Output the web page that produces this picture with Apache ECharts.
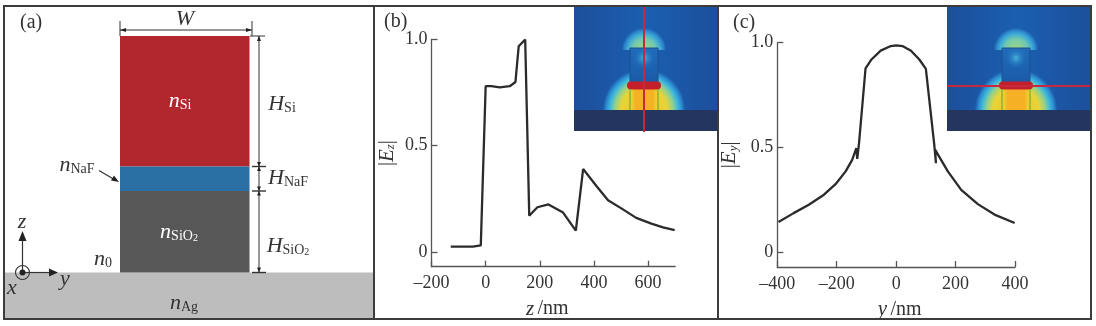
<!DOCTYPE html>
<html><head><meta charset="utf-8">
<style>html,body{margin:0;padding:0;background:#fff}#c{width:1096px;height:326px}</style>
<script src="https://cdn.jsdelivr.net/npm/echarts@6/dist/echarts.min.js"></script>
</head><body><div id="c"></div>
<script>
const zNm = [-129,-47,-18,0,21,52,89,110,122,146,161,191,232,286,333,360,409,452,507,556,612,655,698];
const ezValues = [.025,.025,.03,.78,.78,.775,.78,.80,.968,1.0,.17,.21,.223,.185,.10,.39,.31,.243,.2,.16,.133,.115,.102];
const yNm = [-396,-345,-294,-243,-204,-170,-148,-134,-131,-125,-103,-83,-52,-18,0,21,50,78,100,128,134,131,174,219,275,331,399];
const eyValues = [.145,.187,.227,.275,.325,.386,.441,.497,.446,.52,.878,.92,.962,.984,.987,.984,.962,.92,.875,.517,.425,.49,.386,.298,.23,.18,.14];
const zTicks = [-200,0,200,400,600];
const yTicks = [-400,-200,0,200,400];
const valueTicks = [0,0.5,1];

const SERIF = '"Liberation Serif","DejaVu Serif",serif';
const INK = '#333';
const AXIS = '#555';
const fmtX = v => String(v).replace('-', '\u2013');
const fmtY = v => v === 0 ? '0' : v.toFixed(1);

const axisRich = {
  i:{fontFamily:SERIF,fontStyle:'italic',fontSize:21,color:INK},
  r:{fontFamily:SERIF,fontSize:20,color:INK},
  is:{fontFamily:SERIF,fontStyle:'italic',fontSize:13,color:INK,verticalAlign:'bottom',padding:[6,0,0,0]}
};
const textRich = {
  i:{fontFamily:SERIF,fontStyle:'italic',fontSize:22,fill:INK},
  s:{fontFamily:SERIF,fontSize:14,fill:INK,verticalAlign:'bottom',padding:[8,0,0,0]},
  t:{fontFamily:SERIF,fontSize:10,fill:INK,verticalAlign:'bottom',padding:[11,0,0,0]},
  r:{fontFamily:SERIF,fontSize:20,fill:INK},
  wi:{fontFamily:SERIF,fontStyle:'italic',fontSize:22,fill:'#fff'},
  ws:{fontFamily:SERIF,fontSize:14,fill:'#fff',verticalAlign:'bottom',padding:[8,0,0,0]},
  wt:{fontFamily:SERIF,fontSize:10,fill:'#fff',verticalAlign:'bottom',padding:[11,0,0,0]}
};

function xAxis(idx,min,max,ticks,name,pad){return {
  type:'value',gridIndex:idx,min,max,
  axisLine:{show:true,onZero:false,lineStyle:{color:AXIS,width:1.3}},
  axisTick:{show:true,inside:true,length:6,customValues:ticks,lineStyle:{color:AXIS,width:1.3}},
  axisLabel:{show:true,customValues:ticks,formatter:fmtX,fontFamily:SERIF,fontSize:18,color:INK,margin:8,hideOverlap:false},
  splitLine:{show:false},
  name,nameLocation:'middle',nameGap:32,nameTextStyle:{rich:axisRich,padding:pad}
};}
function yAxis(idx,name,gap){return {
  type:'value',gridIndex:idx,min:-0.07,max:1,
  axisLine:{show:true,onZero:false,lineStyle:{color:AXIS,width:1.3}},
  axisTick:{show:true,inside:true,length:6,customValues:valueTicks,lineStyle:{color:AXIS,width:1.3}},
  axisLabel:{show:true,customValues:valueTicks,formatter:fmtY,fontFamily:SERIF,fontSize:18,color:INK,margin:4},
  splitLine:{show:false},
  name,nameLocation:'middle',nameGap:gap,nameRotate:90,nameTextStyle:{rich:axisRich}
};}

function T(x,y,text,align){return {type:'text',x,y,z:30,style:{text,rich:textRich,align:align||'center',verticalAlign:'middle',fontFamily:SERIF,fontSize:18,fill:INK}};}
function L(x1,y1,x2,y2,w,c){return {type:'line',z:25,shape:{x1,y1,x2,y2},style:{stroke:c||'#333',lineWidth:w||1}};}
function P(pts,c){return {type:'polygon',z:26,shape:{points:pts},style:{fill:c||'#222'}};}
function R(x,y,w,h,fill,z){return {type:'rect',z:z||10,shape:{x,y,width:w,height:h},style:{fill}};}
function radial(cx,cy,r,stops){return {type:'radial',x:cx,y:cy,r,global:true,colorStops:stops};}
function linear(h,stops){return {type:'linear',x:0,y:0,x2:h?1:0,y2:h?0:1,colorStops:stops};}
function dome(cx,cy,r,stops,z){return {type:'sector',z,shape:{cx,cy,r0:0,r,startAngle:Math.PI,endAngle:2*Math.PI},style:{fill:radial(cx,cy,r,stops)}};}

function inset(left,right,cx,lineH){
  const top=7,bot=131,g=110,w=right-left,out=[];
  out.push({type:'rect',z:10,shape:{x:left,y:top,width:w,height:bot-top},style:{fill:linear(true,[
    {offset:0,color:'#1d4f9b'},{offset:.5,color:'#1a5fb0'},{offset:1,color:'#1d4f9b'}])}});
  out.push(dome(cx,50,23,[
    {offset:0,color:'#a8d87a'},{offset:.5,color:'#70c8b0'},{offset:.72,color:'#3aa8d8'},{offset:.88,color:'#2a7cc4'},{offset:1,color:'rgba(26,95,176,0)'}],11));
  out.push(dome(cx,g,42,[
    {offset:0,color:'#f0c020'},{offset:.55,color:'#e8d438'},{offset:.7,color:'#8ed090'},{offset:.82,color:'#38b4e0'},{offset:.92,color:'#2a80c8'},{offset:1,color:'rgba(26,95,176,0)'}],11));
  out.push({type:'rect',z:12,shape:{x:cx-14,y:48,width:28,height:35},style:{fill:linear(false,[
    {offset:0,color:'#1f6cba'},{offset:1,color:'#1a5aa8'}]),stroke:'#1f4f8e',lineWidth:1}});
  out.push({type:'circle',z:13,shape:{cx,cy:58,r:11},style:{fill:{type:'radial',x:.5,y:.5,r:.5,colorStops:[
    {offset:0,color:'#44b4dc'},{offset:1,color:'rgba(31,108,186,0)'}]}}});
  out.push({type:'rect',z:12,shape:{x:cx-14,y:89,width:28,height:g-89},style:{fill:linear(true,[
    {offset:0,color:'#e8dc30'},{offset:.2,color:'#f5b026'},{offset:.8,color:'#f5b026'},{offset:1,color:'#e8dc30'}])}});
  out.push(L(cx-14,89,cx-14,g,1,'#6a9a3a'),L(cx+14,89,cx+14,g,1,'#6a9a3a'));
  out.push({type:'rect',z:14,shape:{x:cx-17,y:81.5,width:34,height:8,r:4},style:{fill:'#c4202c'}});
  out.push(R(left,g,w,bot-g,'#24355f',15));
  const ln = lineH ? L(left,86,right,86,2,'#c8283c') : L(cx,7,cx,132,2,'#c8283c');
  ln.z=20; out.push(ln);
  return out;
}

const schematic = [
  R(5,272.5,368,46,'#bdbdbd'),
  R(120,36,129.5,130.5,'#b1272d'),
  R(120,166.5,129.5,24.5,'#2a6fa3'),
  R(120,191,129.5,81.5,'#575757'),
  L(120,21,120,36),L(252,21,252,36),L(120,30,252,30),
  P([[120,30],[126,28],[126,32]]),P([[252,30],[246,28],[246,32]]),
  L(259,36,259,272.5),
  L(250,36,265,36),L(252,166.5,266,166.5,1.4),L(252,191,266,191,1.4),L(252,272.5,266,272.5,1.4),
  P([[259,36],[257,41],[261,41]]),P([[259,272.5],[257,267.5],[261,267.5]]),
  P([[259,166.5],[257,162],[261,162]]),P([[259,166.5],[257,171],[261,171]]),
  P([[259,191],[257,186.5],[261,186.5]]),P([[259,191],[257,195.5],[261,195.5]]),
  T(185,19,'{i|W}'),
  T(20,23,'{r|(a)}','left'),
  T(180,101,'{wi|n}{ws|Si}'),
  T(282,104,'{i|H}{s|Si}'),
  T(77,165,'{i|n}{s|NaF}'),
  L(99,170.5,116,180.5,1.2),P([[119,182],[111,180.5],[114,175.5]]),
  T(288,178,'{i|H}{s|NaF}'),
  T(179,232,'{wi|n}{ws|SiO}{wt|2}'),
  T(288,246,'{i|H}{s|SiO}{t|2}'),
  T(103,259,'{i|n}{s|0}'),
  T(184,303,'{i|n}{s|Ag}'),
  L(22.5,272.5,22.5,240,1.2),P([[22.5,231],[18.5,241],[26.5,241]]),
  L(22.5,272.5,50,272.5,1.2),P([[58,272.5],[49,268.5],[49,276.5]]),
  {type:'circle',z:26,shape:{cx:22.5,cy:272.5,r:7},style:{fill:'none',stroke:'#333',lineWidth:1.1}},
  {type:'circle',z:26,shape:{cx:22.5,cy:272.5,r:3},style:{fill:'#222'}},
  T(22,222,'{i|z}'),T(65,279,'{i|y}'),T(12,288,'{i|x}'),
  T(384,22,'{r|(b)}','left'),
  T(733,23,'{r|(c)}','left')
];

const frame = [
  {type:'rect',z:40,shape:{x:4,y:6,width:1087,height:313},style:{fill:'none',stroke:'#3c3c3c',lineWidth:2}},
  L(374,6,374,319,2,'#3c3c3c'),L(718,6,718,319,2,'#3c3c3c')
];
frame.forEach(e=>e.z=40);

const chart = echarts.init(document.getElementById('c'),null,{renderer:'canvas'});
chart.setOption({
  animation:false,backgroundColor:'#fff',
  grid:[
    {left:431.5,top:39.5,width:243.7,height:227.2,containLabel:false},
    {left:777.3,top:42.7,width:237.7,height:224.3,containLabel:false}
  ],
  xAxis:[xAxis(0,-200,700,zTicks,'{i|z} {r|/nm}',[0,12,0,0]),xAxis(1,-400,400,yTicks,'{i|y} {r|/nm}',[0,0,0,7])],
  yAxis:[yAxis(0,'{r||}{i|E}{is|z}{r||}',34),yAxis(1,'{r||}{i|E}{is|y}{r||}',37)],
  series:[
    {type:'line',xAxisIndex:0,yAxisIndex:0,data:zNm.map((v,i)=>[v,ezValues[i]]),showSymbol:false,lineStyle:{color:'#2b2b2b',width:2.3},z:5},
    {type:'line',xAxisIndex:1,yAxisIndex:1,data:yNm.map((v,i)=>[v,eyValues[i]]),showSymbol:false,lineStyle:{color:'#2b2b2b',width:2.3},z:5}
  ],
  graphic:{elements:[...schematic,...inset(574,718,644,false),...inset(947,1091,1016,true),...frame]}
});
</script></body></html>
